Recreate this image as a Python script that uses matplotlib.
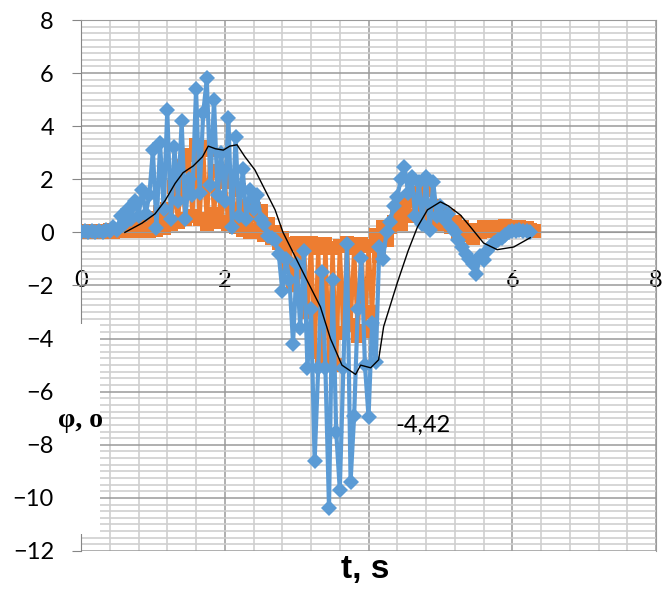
import numpy as np
import matplotlib
matplotlib.use("Agg")
import matplotlib.pyplot as plt
from matplotlib.ticker import MultipleLocator
from matplotlib.patches import Rectangle

plt.rcParams["font.family"] = ["Lato", "DejaVu Sans"]

# sampled time, s (step 0.05)
t_orange = np.round(np.arange(0, 6.301, 0.05), 2)
phi_orange = [0.05, 0.00, 0.05, 0.00, 0.05, 0.02, 0.05, 0.02, 0.08, 0.03,
              0.10, 0.05, 0.12, 0.05, 0.15, 0.05, 0.20, 0.08, 0.35, 0.05,
              0.55, 0.10, 0.75, 0.15, 0.90, 0.30, 1.70, 0.40, 2.50, 0.50,
              2.90, 0.60, 3.30, 0.50, 3.20, 0.30, 3.10, 0.70, 2.30, 0.40,
              1.90, 0.30, 2.00, 0.20, 1.60, 0.10, 1.00, 0.00, 0.90, 0.10,
              0.80, -0.10, 0.30, -0.20, 0.00, -0.40, -0.20, -1.20, -0.45, -2.00,
              -0.40, -1.50, -0.50, -3.00, -0.40, -4.50, -0.60, -5.00, -0.45, -4.80,
              -0.60, -5.00, -0.50, -3.80, -0.40, -3.50, -0.60, -3.90, -0.45, -3.70,
              -0.50, -3.00, -0.10, -0.90, 0.20, -0.30, 0.20, 0.40, 0.90, 0.30,
              1.10, 0.60, 1.40, 0.60, 1.50, 0.80, 1.60, 0.60, 1.00, 0.30,
              0.80, 0.40, 0.60, 0.20, 0.40, 0.00, 0.20, -0.10, 0.10, -0.20,
              0.10, 0.00, 0.20, 0.05, 0.20, 0.10, 0.20, 0.10, 0.25, 0.10,
              0.20, 0.10, 0.20, 0.10, 0.15, 0.10, 0.05]

t_blue = np.round(np.arange(0, 6.251, 0.05), 2)
phi_blue = [0.00, 0.05, 0.00, 0.05, 0.00, 0.05, 0.02, 0.10, 0.05, 0.20,
            0.10, 0.60, 0.30, 0.90, 0.50, 1.20, 0.60, 1.60, 0.70, 1.40,
            3.10, 0.15, 3.35, 0.90, 4.60, 0.50, 3.20, 1.20, 4.20, 0.50,
            2.00, 1.40, 5.40, 1.50, 4.50, 5.80, 1.80, 5.00, 1.40, 3.00,
            1.20, 4.30, 0.20, 3.60, 0.60, 2.40, 0.50, 1.60, 0.90, 1.40,
            0.50, 0.30, -0.15, -0.20, -0.30, -0.80, -2.20, -1.00, -1.80, -4.20,
            -1.20, -3.60, -0.70, -5.10, -2.90, -8.60, -5.10, -1.50, -5.10, -10.40,
            -1.80, -7.50, -9.70, -5.10, -0.45, -9.40, -6.90, -2.90, -0.95, -5.00,
            -6.95, -3.40, -4.90, -0.55, -1.00, 0.00, 0.40, 1.00, 1.35, 2.00,
            2.47, 1.50, 2.10, 0.60, 1.90, 0.30, 2.10, 0.10, 1.90, 0.60,
            1.00, 0.50, 0.70, 0.20, 0.00, -0.30, -0.55, -0.80, -1.00, -1.20,
            -1.55, -0.90, -1.04, -0.70, -0.50, -0.40, -0.30, -0.20, -0.10, 0.00,
            0.05, 0.05, 0.10, 0.05, 0.05, 0.00]

# smoothed curve
t_mean = [0.61, 0.85, 1.03, 1.17, 1.31, 1.42, 1.56, 1.69, 1.77, 1.87,
          1.98, 2.07, 2.17, 2.28, 2.42, 2.56, 2.70, 2.81, 3.05, 3.33,
          3.47, 3.63, 3.82, 3.89, 4.03, 4.14, 4.21, 4.40, 4.55, 4.68,
          4.82, 5.00, 5.11, 5.28, 5.42, 5.60, 5.79, 6.02, 6.25]
phi_mean = [0.00, 0.35, 0.70, 1.20, 1.85, 2.25, 2.50, 2.85, 3.25, 3.15,
            3.10, 3.25, 3.30, 2.85, 2.35, 1.60, 0.85, 0.00, -1.30, -2.80,
            -4.00, -5.00, -5.35, -5.00, -5.10, -4.80, -3.55, -1.90, -0.70, 0.20,
            0.85, 1.15, 1.00, 0.65, 0.20, -0.40, -0.65, -0.55, -0.20]

label_value = "-4,42"

fig = plt.figure(figsize=(6.62, 5.92), dpi=100)
ax = fig.add_axes([0.1224, 0.0693, 0.8686, 0.8969])

ax.plot(t_orange, phi_orange, color="#ED7D31", lw=3.0, marker="s", ms=10,
        mew=0, zorder=2)
ax.plot(t_blue, phi_blue, color="#5B9BD5", lw=3.0, marker="D", ms=8.5,
        mew=0, zorder=3)
ax.plot(t_mean, phi_mean, color="black", lw=1.0, zorder=4)

ax.set_xlim(0, 8)
ax.set_ylim(-12, 8)
ax.xaxis.set_major_locator(MultipleLocator(2))
ax.xaxis.set_minor_locator(MultipleLocator(0.4))
ax.yaxis.set_major_locator(MultipleLocator(2))
ax.yaxis.set_minor_locator(MultipleLocator(0.25))
ax.set_axisbelow(True)
ax.grid(which="major", color="#9a9a9a", lw=1.1)
ax.grid(which="minor", color="#cfcfcf", lw=1.2)

ax.tick_params(axis="both", which="major", labelsize=17)
ax.tick_params(axis="x", which="both", length=0, pad=27)
ax.tick_params(axis="y", which="minor", length=0)
ax.tick_params(axis="y", which="major", length=6.5, color="#868686", pad=13)

ax.spines["bottom"].set_position(("data", 0))
for side in ["top", "right", "bottom"]:
    ax.spines[side].set_color("#9a9a9a")
ax.spines["left"].set_color("#868686")

# white box behind the y label
ax.add_patch(Rectangle((-0.0435, 0.032), 0.077, 0.3955, transform=ax.transAxes,
                       facecolor="white", edgecolor="none", clip_on=False, zorder=5))

ax.text(4.37, -7.25, label_value, ha="left", va="center", fontsize=17, zorder=6)

fig.text(0.0876, 0.2889, "φ, o", ha="left", va="center", family="Liberation Serif",
         fontweight="bold", fontsize=20, zorder=10)
fig.text(0.5514, 0.0372, "t, s", ha="center", va="center", family="Liberation Sans",
         fontweight="bold", fontsize=24)

fig.savefig("out.png", dpi=100)
